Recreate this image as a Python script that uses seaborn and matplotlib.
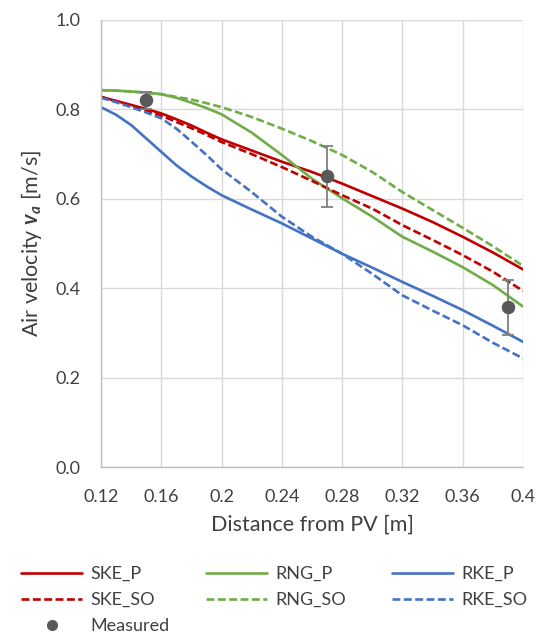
import numpy as np
import pandas as pd
import matplotlib
matplotlib.use("Agg")
import matplotlib.pyplot as plt
import seaborn as sns
from matplotlib.lines import Line2D

# ---- data ----
distance = [0.12, 0.13, 0.14, 0.15, 0.16, 0.17, 0.18, 0.19, 0.20, 0.22, 0.24, 0.26,
            0.28, 0.30, 0.32, 0.34, 0.36, 0.38, 0.40]
ske_p  = [0.828, 0.819, 0.810, 0.801, 0.791, 0.778, 0.764, 0.748, 0.733, 0.708, 0.683, 0.660,
          0.634, 0.606, 0.578, 0.548, 0.515, 0.480, 0.442]
ske_so = [0.828, 0.818, 0.808, 0.797, 0.786, 0.772, 0.758, 0.743, 0.727, 0.700, 0.671, 0.640,
          0.608, 0.578, 0.541, 0.508, 0.474, 0.437, 0.394]
rng_p  = [0.843, 0.842, 0.840, 0.838, 0.834, 0.826, 0.815, 0.803, 0.789, 0.748, 0.698, 0.645,
          0.601, 0.560, 0.515, 0.482, 0.447, 0.407, 0.359]
rng_so = [0.843, 0.842, 0.840, 0.837, 0.834, 0.828, 0.822, 0.814, 0.805, 0.783, 0.757, 0.729,
          0.698, 0.660, 0.615, 0.575, 0.535, 0.494, 0.450]
rke_p  = [0.805, 0.788, 0.765, 0.735, 0.705, 0.675, 0.650, 0.628, 0.608, 0.576, 0.545, 0.511,
          0.477, 0.446, 0.414, 0.383, 0.351, 0.316, 0.280]
rke_so = [0.826, 0.816, 0.805, 0.793, 0.780, 0.757, 0.728, 0.698, 0.666, 0.615, 0.560, 0.515,
          0.477, 0.432, 0.384, 0.350, 0.317, 0.278, 0.243]

meas_x = [0.15, 0.27, 0.39]
meas_y = [0.82, 0.65, 0.357]
meas_err = [0.018, 0.069, 0.061]

x_ticks = [0.12, 0.16, 0.2, 0.24, 0.28, 0.32, 0.36, 0.4]
x_tick_labels = ["0.12", "0.16", "0.2", "0.24", "0.28", "0.32", "0.36", "0.4"]
y_ticks = [0.0, 0.2, 0.4, 0.6, 0.8, 1.0]
y_tick_labels = ["0.0", "0.2", "0.4", "0.6", "0.8", "1.0"]

series = [
    ("SKE_P", ske_p, "#C00000", "-"),
    ("RNG_P", rng_p, "#70AD47", "-"),
    ("RKE_P", rke_p, "#4472C4", "-"),
    ("SKE_SO", ske_so, "#C00000", "--"),
    ("RNG_SO", rng_so, "#70AD47", "--"),
    ("RKE_SO", rke_so, "#4472C4", "--"),
]

# ---- style ----
sns.set_style("white")
plt.rcParams["font.family"] = ["Lato", "DejaVu Sans"]
plt.rcParams["mathtext.fontset"] = "custom"
plt.rcParams["mathtext.it"] = "Lato:italic"
plt.rcParams["mathtext.bfit"] = "Lato:italic:bold"
plt.rcParams["mathtext.rm"] = "Lato"

fig = plt.figure(figsize=(5.45, 6.37), dpi=100)
ax = fig.add_axes([101 / 545, 1 - 467 / 637, (523 - 101) / 545, (467 - 20) / 637])

text_col = "#404040"
LW = 1.9
DASH = (3.0, 1.3)
handles = {}
for name, vals, col, ls in series:
    df = pd.DataFrame({"x": distance, "y": vals})
    sns.lineplot(data=df, x="x", y="y", ax=ax, color=col, linewidth=LW,
                 linestyle=ls, sort=False, estimator=None)
    ln = ax.get_lines()[-1]
    if ls == "--":
        ln.set_dashes(DASH)
    h = Line2D([], [], color=col, linewidth=LW, linestyle=ls)
    if ls == "--":
        h.set_dashes(DASH)
    handles[name] = h

ax.errorbar(meas_x, meas_y, yerr=meas_err, fmt="none", ecolor="#7F7F7F",
            elinewidth=1.3, capsize=4.3, capthick=1.3, zorder=4)
mdf = pd.DataFrame({"x": meas_x, "y": meas_y})
sns.scatterplot(data=mdf, x="x", y="y", ax=ax, color="#595959", s=95,
                edgecolor="#595959", linewidth=0, zorder=5)
handles["Measured"] = Line2D([], [], color="#595959", marker="o", linestyle="none",
                             markersize=7)

ax.set_xlim(0.12, 0.4)
ax.set_ylim(0.0, 1.0)
ax.set_xticks(x_ticks)
ax.set_xticklabels(x_tick_labels)
ax.set_yticks(y_ticks)
ax.set_yticklabels(y_tick_labels)
ax.grid(True, color="#D9D9D9", linewidth=1.0)
ax.set_axisbelow(True)
for s in ["top", "right"]:
    ax.spines[s].set_visible(False)
for s in ["left", "bottom"]:
    ax.spines[s].set_color("#BFBFBF")
    ax.spines[s].set_linewidth(1.0)
ax.tick_params(axis="both", labelsize=13, colors="#BFBFBF", labelcolor=text_col,
               length=5, width=1.0, direction="out")
ax.tick_params(axis="x", pad=11)
ax.tick_params(axis="y", pad=10)
ax.set_xlabel("Distance from PV [m]", fontsize=15.5, color=text_col, labelpad=7)
ax.set_ylabel(r"Air velocity $\mathbfit{v_a}$ [m/s]", fontsize=15.5, color=text_col, labelpad=8)

columns = [
    (["SKE_P", "SKE_SO", "Measured"], 21),
    (["RNG_P", "RNG_SO"], 206),
    (["RKE_P", "RKE_SO"], 392),
]
for names, xpix in columns:
    leg = fig.legend([handles[k] for k in names], names, loc="upper left",
                     bbox_to_anchor=(xpix / 545, 1 - 566 / 637), frameon=False,
                     fontsize=13, handlelength=3.4, handletextpad=0.45,
                     labelspacing=0.55, borderaxespad=0, borderpad=0)
    for t in leg.get_texts():
        t.set_color(text_col)

fig.savefig("out.png", dpi=100)
